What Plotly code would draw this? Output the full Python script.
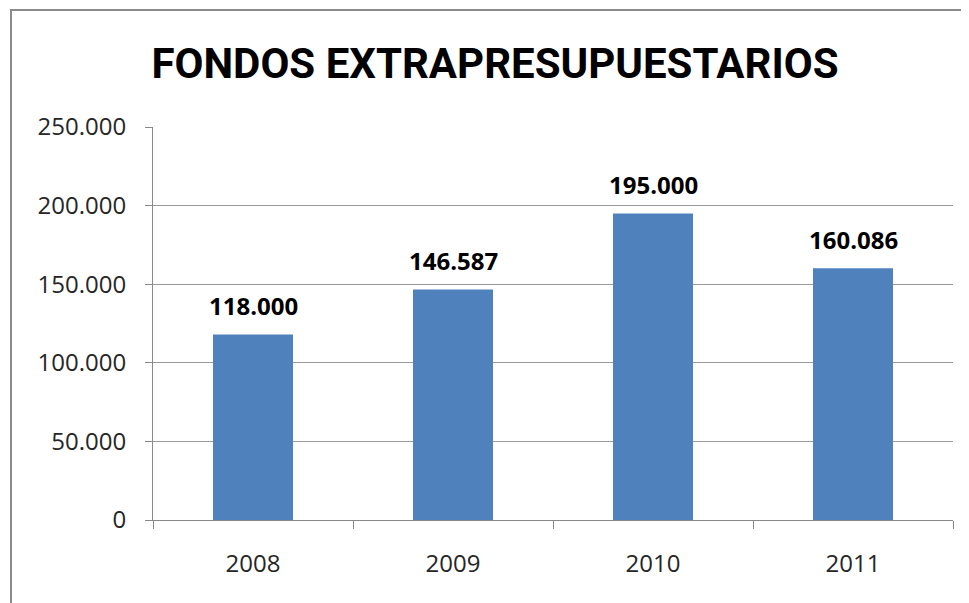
import plotly.graph_objects as go

years = ["2008", "2009", "2010", "2011"]
values = [118000, 146587, 195000, 160086]
y_ticks = [0, 50000, 100000, 150000, 200000, 250000]
title_text = "FONDOS EXTRAPRESUPUESTARIOS"

# page body adds an 8px offset; compensate
OFF = 8
L, R, T, B = 153 - OFF, 969 - (953 - OFF), 127 - OFF, 603 - (520 - OFF)
PW, PH = 969 - L - R, 603 - T - B

fig = go.Figure()
fig.add_trace(go.Bar(
    x=years, y=values,
    marker=dict(color="#4F81BD", line=dict(width=0)),
    width=0.4,
))

for i, v in enumerate(values):
    fig.add_annotation(
        x=i, y=v, text=f"{v:,.0f}".replace(",", "."),
        showarrow=False, yanchor="middle", yshift=29,
        font=dict(family="Open Sans", size=24, color="#000000", weight="bold"),
    )

fig.update_layout(
    width=969, height=603,
    margin=dict(l=L, r=R, t=T, b=B),
    paper_bgcolor="white", plot_bgcolor="white",
    separators=",.",
    showlegend=False,
    title=dict(
        text=f"<b>{title_text}</b>",
        x=(495 - OFF) / 969, xref="container", xanchor="center",
        y=1 - (63 - OFF) / 603, yref="container", yanchor="middle",
        font=dict(family="Roboto", size=42, color="#000000"),
    ),
    xaxis=dict(
        type="category", range=[-0.5, len(years) - 0.5],
        showline=True, linecolor="#888888", linewidth=1,
        ticks="outside", tickson="boundaries", ticklen=8, tickcolor="#888888",
        tickfont=dict(family="Open Sans", size=24, color="#262626"),
        ticklabelstandoff=22,
        showgrid=False, automargin=False,
    ),
    yaxis=dict(
        range=[0, 250000], tickvals=y_ticks, tickformat=",.0f",
        showline=True, linecolor="#888888", linewidth=1,
        ticks="outside", ticklen=7, tickcolor="#888888",
        showgrid=True, gridcolor="#9a9a9a", gridwidth=1,
        tickfont=dict(family="Open Sans", size=24, color="#262626"),
        ticklabelstandoff=14,
        zeroline=False, automargin=False,
    ),
    shapes=[dict(
        type="rect", xref="paper", yref="paper",
        x0=(11 - OFF - L) / PW, x1=(990 - L) / PW,
        y0=-(620 - T - PH) / PH, y1=1 + (T - (10 - OFF)) / PH,
        line=dict(color="#8a8a8a", width=2), fillcolor="rgba(0,0,0,0)", layer="below",
    )],
)

fig.write_html("out.html")
